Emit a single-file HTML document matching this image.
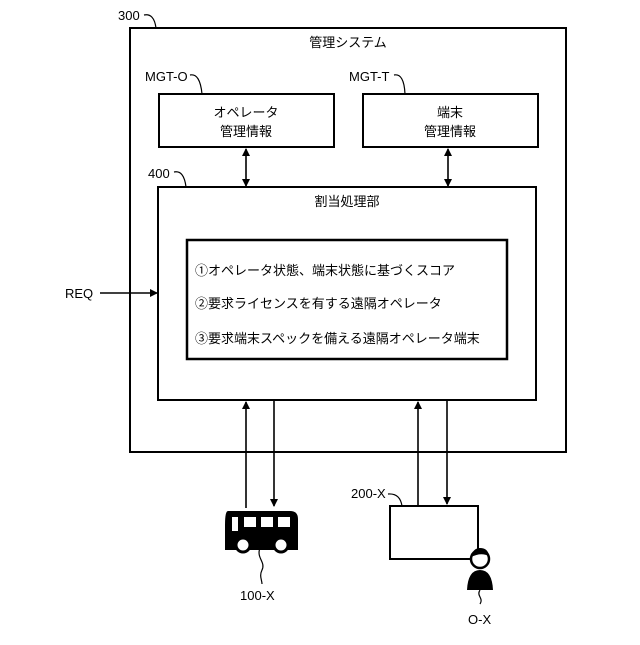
<!DOCTYPE html>
<html><head><meta charset="utf-8"><style>
html,body{margin:0;padding:0;background:#fff}
svg text{font-family:"Liberation Sans","Noto Sans CJK JP",sans-serif;fill:#000}
</style></head><body>
<svg width="640" height="640" viewBox="0 0 640 640" xmlns="http://www.w3.org/2000/svg">
<defs><marker id="a" markerWidth="8" markerHeight="8" refX="7" refY="4" orient="auto-start-reverse" markerUnits="userSpaceOnUse"><path d="M0,0 L8,4 L0,8 z" fill="#000"/></marker></defs>
<g fill="none" stroke="#000" stroke-width="2">
<rect x="130" y="28" width="436" height="424"/>
<rect x="159" y="94" width="175" height="53"/>
<rect x="363" y="94" width="175" height="53"/>
<rect x="158" y="187" width="378" height="213"/>
<rect x="187" y="240" width="320" height="119" stroke-width="2.5"/>
<rect x="390" y="506" width="88" height="53"/>
</g>
<g stroke="#000" stroke-width="1.6" fill="none">
<line x1="246" y1="149" x2="246" y2="186" marker-start="url(#a)" marker-end="url(#a)"/>
<line x1="448" y1="149" x2="448" y2="186" marker-start="url(#a)" marker-end="url(#a)"/>
<line x1="100" y1="293" x2="157" y2="293" marker-end="url(#a)"/>
<line x1="246" y1="508" x2="246" y2="402" marker-end="url(#a)"/>
<line x1="274" y1="400" x2="274" y2="506" marker-end="url(#a)"/>
<line x1="418" y1="506" x2="418" y2="402" marker-end="url(#a)"/>
<line x1="447" y1="400" x2="447" y2="504" marker-end="url(#a)"/>
<path d="M144,15 q10,-2 12,13" stroke-width="1.2"/>
<path d="M190,75 q10,-2 12,19" stroke-width="1.2"/>
<path d="M394,75 q10,-2 11,19" stroke-width="1.2"/>
<path d="M174,172 q10,-2 12,15" stroke-width="1.2"/>
<path d="M388,494 q12,-1 14,12" stroke-width="1.2"/>
<path d="M260,548 c-4,10 6,14 2,22 c-3,6 0,10 0,14" stroke-width="1.2"/>
<path d="M480,590 c-4,6 4,8 0,14" stroke-width="1.2"/>
</g>
<!-- bus -->
<path d="M228,511 h62 q8,0 8,8 v31 h-73 v-25 q0,-14 3,-14 z" fill="#000"/>
<g fill="#fff"><rect x="232" y="517" width="6" height="14"/><rect x="244" y="517" width="12" height="10"/><rect x="261" y="517" width="12" height="10"/><rect x="278" y="517" width="12" height="10"/></g>
<circle cx="243" cy="545" r="7" fill="#fff" stroke="#000" stroke-width="3"/>
<circle cx="281" cy="545" r="7" fill="#fff" stroke="#000" stroke-width="3"/>
<!-- person -->
<circle cx="480" cy="559" r="9" fill="#fff" stroke="#000" stroke-width="2.5"/>
<path d="M471,557 q2,-9 9,-9 q8,0 9,8 q-8,-4 -18,1z" fill="#000"/>
<path d="M467,590 q1,-20 13,-20 q12,0 13,20 z" fill="#000"/>
<g font-size="13">
<text x="118" y="20">300</text>
<text x="348" y="47" text-anchor="middle">管理システム</text>
<text x="145" y="81">MGT-O</text>
<text x="349" y="81">MGT-T</text>
<text x="246" y="117" text-anchor="middle">オペレータ</text>
<text x="246" y="136" text-anchor="middle">管理情報</text>
<text x="450" y="117" text-anchor="middle">端末</text>
<text x="450" y="136" text-anchor="middle">管理情報</text>
<text x="148" y="178">400</text>
<text x="347" y="206" text-anchor="middle">割当処理部</text>
<text x="195" y="275">①オペレータ状態、端末状態に基づくスコア</text>
<text x="195" y="308">②要求ライセンスを有する遠隔オペレータ</text>
<text x="195" y="343">③要求端末スペックを備える遠隔オペレータ端末</text>
<text x="65" y="298">REQ</text>
<text x="351" y="498">200-X</text>
<text x="240" y="600">100-X</text>
<text x="468" y="624">O-X</text>
</g>
</svg>
</body></html>
